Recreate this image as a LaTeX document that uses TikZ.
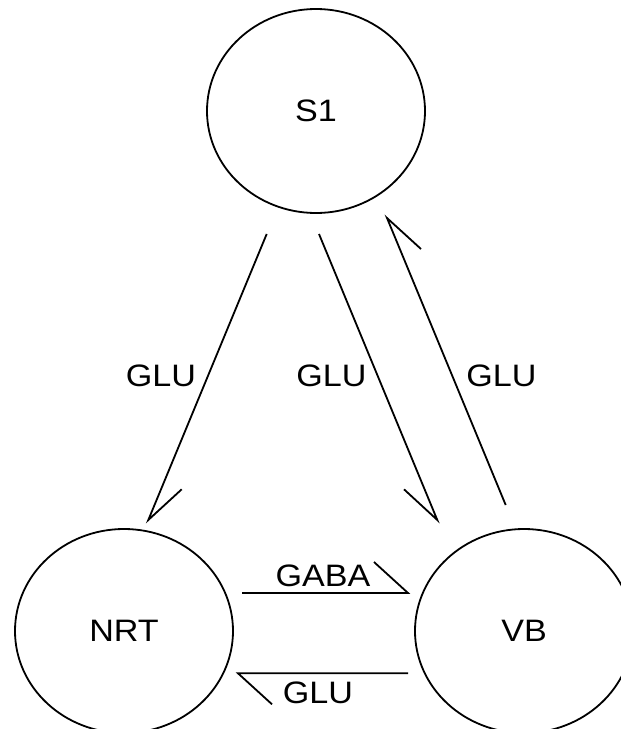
\documentclass[tikz,border=0pt]{standalone}
\usepackage{fontspec}
\setmainfont[FakeStretch=1.1]{Liberation Sans}
\usetikzlibrary{shapes.geometric}
\begin{document}
\begin{tikzpicture}[x=1pt,y=-1pt,
  every node/.style={font=\fontsize{31}{37}\selectfont, inner sep=0pt},
  cell/.style={ellipse, draw, line width=1.8pt, minimum width=218pt, minimum height=204pt},
  conn/.style={line width=1.8pt, line join=miter},
  lbl/.style={}]
\useasboundingbox (0,0) rectangle (621,729);
\node[cell] (s1) at (316,111) {S1};
\node[cell] (nrt) at (124,631) {NRT};
\node[cell] (vb) at (524,631) {VB};
% connector end points
\coordinate (a1s) at (266.7,234);
\coordinate (a1t) at (148.3,520);
\coordinate (a2s) at (319,234);
\coordinate (a2t) at (437.3,520);
\coordinate (a3s) at (505.7,505);
\coordinate (a3t) at (387,218);
\coordinate (a4s) at (242,593);
\coordinate (a4t) at (408,593);
\coordinate (a5s) at (408,673.3);
\coordinate (a5t) at (238,673.3);
\draw[conn] (a1s) -- (a1t) -- ++(33.4,-30.7);
\draw[conn] (a2s) -- (a2t) -- ++(-33.3,-30.7);
\draw[conn] (a3s) -- (a3t) -- ++(34,31);
\draw[conn] (a4s) -- (a4t) -- ++(-34,-31);
\draw[conn] (a5s) -- (a5t) -- ++(34,31);
% labels
\node[lbl] (l1) at (161,376) {GLU};
\node[lbl] (l2) at (331.5,376) {GLU};
\node[lbl] (l3) at (501.5,376) {GLU};
\node[lbl] (l4) at (323,576) {GABA};
\node[lbl] (l5) at (318,693) {GLU};
\end{tikzpicture}
\end{document}
